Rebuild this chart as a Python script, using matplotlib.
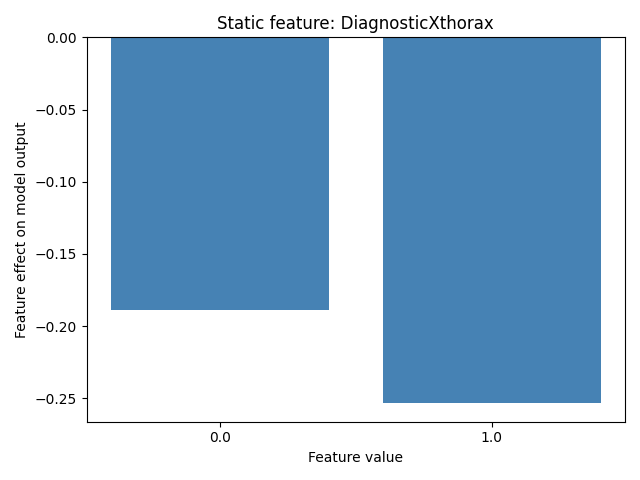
import matplotlib
matplotlib.use("Agg")
import matplotlib.pyplot as plt

feature_values = ["0.0", "1.0"]
effects = [-0.189, -0.2535]

fig, ax = plt.subplots(figsize=(6.4, 4.8), dpi=100)
ax.bar(range(len(feature_values)), effects, color="steelblue")
ax.set_xticks(range(len(feature_values)))
ax.set_xticklabels(feature_values)
ax.set_ylim(top=0)
ax.set_xlabel("Feature value")
ax.set_ylabel("Feature effect on model output")
ax.set_title("Static feature: DiagnosticXthorax")
fig.tight_layout()
fig.savefig("out.png")
